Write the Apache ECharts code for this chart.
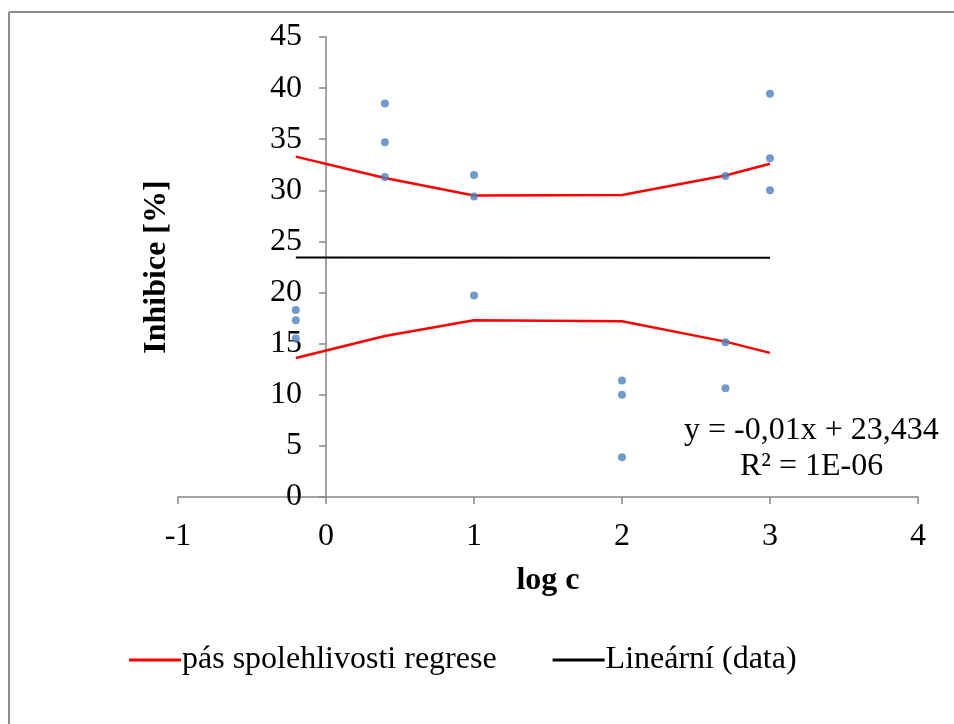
<!DOCTYPE html>
<html>
<head>
<meta charset="utf-8">
<script src="https://cdn.jsdelivr.net/npm/echarts@6/dist/echarts.min.js"></script>
<style>
html, body { margin: 0; padding: 0; background: #fff; }
#chart { width: 954px; height: 724px; }
</style>
</head>
<body>
<div id="chart"></div>
<script>
// log c hodnoty (x)
var logC = [-0.204, 0.398, 1, 2, 2.699, 3];
// namerena data - tri opakovani pro kazdou koncentraci
var dataX = [-0.204, -0.204, -0.204, 0.398, 0.398, 0.398, 1, 1, 1, 2, 2, 2, 2.699, 2.699, 2.699, 3, 3, 3];
var dataY = [18.3, 17.3, 15.5, 38.5, 34.7, 31.3, 31.5, 29.4, 19.7, 11.4, 10.0, 3.9, 31.4, 15.15, 10.65, 39.45, 33.15, 30.0];
// pas spolehlivosti regrese
var horni = [33.3, 31.2, 29.5, 29.55, 31.45, 32.6];
var dolni = [13.6, 15.75, 17.3, 17.2, 15.2, 14.1];
// linearni trend
var trendX = [-0.204, 3];
var trendY = [23.436, 23.404];
var rovnice = 'y = -0,01x + 23,434';
var r2 = 'R² = 1E-06';

var font = '"Liberation Serif", "Times New Roman", serif';
var axisColor = '#868686';

function pairs(xs, ys) {
	var out = [];
	for (var i = 0; i < xs.length; i++) {
		out.push([xs[i], ys[i]]);
	}
	return out;
}

var chart = echarts.init(document.getElementById('chart'));
chart.setOption({
	animation: false,
	backgroundColor: '#fff',
	textStyle: { fontFamily: font },
	grid: {
		left: 178,
		right: 36,
		top: 37,
		bottom: 227,
		containLabel: false,
		outerBoundsMode: 'none'
	},
	legend: {
		left: 124,
		top: 639,
		itemWidth: 52,
		itemHeight: 3,
		itemGap: 56,
		icon: 'rect',
		textStyle: { fontFamily: font, fontSize: 32, color: '#000', padding: [0, 0, 0, -4] },
		data: [
			{ name: 'pás spolehlivosti regrese', itemStyle: { color: '#ff0000' } },
			{ name: 'Lineární (data)', itemStyle: { color: '#000' } }
		]
	},
	xAxis: {
		type: 'value',
		min: -1,
		max: 4,
		interval: 1,
		name: 'log c',
		nameLocation: 'middle',
		nameGap: 68,
		nameTextStyle: { fontFamily: font, fontSize: 32, fontWeight: 'bold', color: '#000' },
		axisLine: { onZero: false, lineStyle: { color: axisColor, width: 1.5 } },
		axisTick: { show: true, length: 7, lineStyle: { color: axisColor, width: 1.5 } },
		axisLabel: { fontFamily: font, fontSize: 32, color: '#000', margin: 24 },
		splitLine: { show: false }
	},
	yAxis: {
		type: 'value',
		min: 0,
		max: 45,
		interval: 5,
		// osa y lezi na x = 0 (posun doprava o jednu jednotku osy x)
		offset: -148,
		name: 'Inhibice [%]',
		nameLocation: 'middle',
		nameGap: 153,
		nameRotate: 90,
		nameTextStyle: { fontFamily: font, fontSize: 32, fontWeight: 'bold', color: '#000' },
		axisLine: { show: true, onZero: false, lineStyle: { color: axisColor, width: 1.5 } },
		axisTick: { show: true, length: 7, lineStyle: { color: axisColor, width: 1.5 } },
		axisLabel: { fontFamily: font, fontSize: 32, color: '#000', margin: 24 },
		splitLine: { show: false }
	},
	series: [
		{
			name: 'data',
			type: 'scatter',
			symbol: 'circle',
			symbolSize: 8,
			itemStyle: { color: '#4f81bd' },
			data: pairs(dataX, dataY),
			z: 5
		},
		{
			name: 'pás spolehlivosti regrese',
			type: 'line',
			symbol: 'none',
			lineStyle: { color: '#ff0000', width: 2.5 },
			itemStyle: { color: '#ff0000' },
			data: pairs(logC, horni)
		},
		{
			name: 'pás spolehlivosti regrese',
			type: 'line',
			symbol: 'none',
			lineStyle: { color: '#ff0000', width: 2.5 },
			itemStyle: { color: '#ff0000' },
			data: pairs(logC, dolni)
		},
		{
			name: 'Lineární (data)',
			type: 'line',
			symbol: 'none',
			lineStyle: { color: '#000', width: 2 },
			itemStyle: { color: '#000' },
			data: pairs(trendX, trendY)
		}
	],
	graphic: [
		{
			type: 'text',
			left: 684,
			top: 415,
			style: { text: rovnice, font: '32px ' + font, fill: '#000' }
		},
		{
			type: 'text',
			left: 740,
			top: 451,
			style: { text: r2, font: '32px ' + font, fill: '#000' }
		},
		{
			type: 'line',
			shape: { x1: 9, y1: 12, x2: 954, y2: 12 },
			style: { stroke: '#8c8c8c', lineWidth: 2 }
		},
		{
			type: 'line',
			shape: { x1: 9, y1: 12, x2: 9, y2: 724 },
			style: { stroke: '#8c8c8c', lineWidth: 2 }
		}
	]
});
</script>
</body>
</html>
